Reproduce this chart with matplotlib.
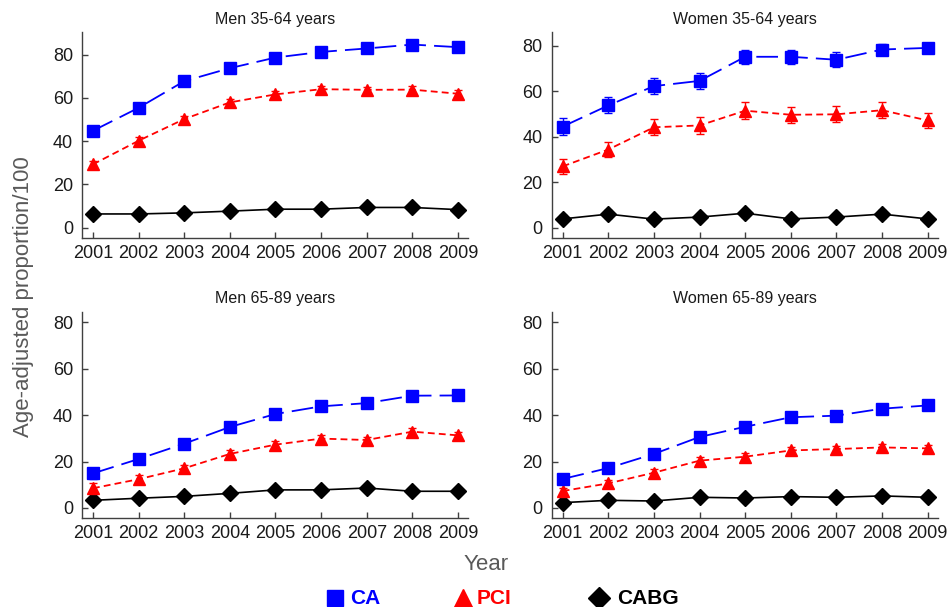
import matplotlib
matplotlib.use("Agg")
import matplotlib.pyplot as plt
from matplotlib.lines import Line2D
import numpy as np

plt.rcParams['font.family'] = ['Liberation Sans', 'DejaVu Sans']

years = [2001, 2002, 2003, 2004, 2005, 2006, 2007, 2008, 2009]
titles = ["Men 35-64 years", "Women 35-64 years", "Men 65-89 years", "Women 65-89 years"]

ca = [
    [44.8, 55.4, 67.7, 73.7, 78.6, 81.2, 82.8, 84.6, 83.4],
    [44.5, 53.8, 62.3, 64.6, 75.2, 75.2, 73.9, 78.4, 79.1],
    [14.9, 21.1, 27.7, 34.9, 40.5, 43.8, 45.2, 48.4, 48.5],
    [12.5, 17.2, 23.3, 30.6, 35.0, 39.1, 39.8, 42.8, 44.2],
]
ca_err = [
    [1.5, 1.5, 1.5, 1.5, 1.3, 1.2, 1.2, 1.1, 1.1],
    [3.7, 3.5, 3.4, 3.5, 3.1, 3.1, 3.2, 2.6, 2.3],
    [2.4, 1.8, 1.6, 1.6, 1.5, 1.5, 1.5, 1.4, 1.4],
    [1.6, 1.6, 1.5, 1.5, 1.5, 1.5, 1.4, 1.4, 1.4],
]
pci = [
    [29.3, 40.2, 50.2, 57.9, 61.6, 64.0, 63.7, 63.8, 61.9],
    [27.0, 34.4, 44.2, 45.0, 51.5, 49.7, 49.9, 51.7, 47.2],
    [8.5, 12.4, 17.1, 23.3, 27.3, 29.9, 29.3, 32.9, 31.3],
    [7.3, 10.6, 15.2, 20.4, 22.1, 24.8, 25.4, 26.1, 25.7],
]
pci_err = [
    [1.5, 1.5, 1.5, 1.5, 1.5, 1.5, 1.5, 1.5, 1.5],
    [3.3, 3.4, 3.6, 3.6, 3.7, 3.6, 3.6, 3.6, 3.4],
    [2.2, 2.0, 1.6, 1.6, 1.5, 1.5, 1.5, 1.4, 1.4],
    [1.4, 1.4, 1.4, 1.4, 1.4, 1.4, 1.4, 1.4, 1.4],
]
cabg = [
    [6.4, 6.4, 6.9, 7.7, 8.6, 8.6, 9.4, 9.4, 8.4],
    [3.9, 6.0, 3.8, 4.7, 6.4, 3.9, 4.7, 6.0, 3.9],
    [3.3, 4.2, 5.0, 6.3, 7.8, 7.8, 8.6, 7.2, 7.2],
    [2.3, 3.3, 3.0, 4.6, 4.3, 4.9, 4.6, 5.2, 4.6],
]
cabg_err = [
    [0.8, 0.8, 0.8, 0.8, 0.8, 0.8, 0.8, 0.8, 0.8],
    [1.5, 1.6, 1.4, 1.5, 1.6, 1.4, 1.5, 1.6, 1.4],
    [1.0, 1.0, 1.0, 1.0, 1.0, 1.0, 1.0, 1.0, 1.0],
    [0.8, 0.8, 0.8, 0.8, 0.8, 0.8, 0.8, 0.8, 0.8],
]
ylims = [(-4.7, 90.4), (-4.5, 86.1), (-4.45, 84.6), (-4.45, 84.6)]
yticks = [0, 20, 40, 60, 80]
legend_labels = ['CA', 'PCI', 'CABG']

W, H = 950, 607
fig = plt.figure(figsize=(W / 100, H / 100), dpi=100)

boxes = [
    (82, 32, 468, 238),
    (551.7, 32, 937.7, 238),
    (82, 311.7, 468, 518.3),
    (551.7, 311.7, 937.7, 518.3),
]

spine_col = '#404040'
blue = '#0000ff'
red = '#ff0000'

for i, (l, t, r, b) in enumerate(boxes):
    ax = fig.add_axes([l / W, 1 - b / H, (r - l) / W, (b - t) / H])
    ax.errorbar(years, cabg[i], yerr=cabg_err[i], color='black', ls='-', lw=1.2,
                marker='D', ms=8, capsize=3, elinewidth=1.0, zorder=3)
    ax.errorbar(years, pci[i], yerr=pci_err[i], color=red, ls=(0, (3.8, 2.3)), lw=1.3,
                marker='^', ms=8.5, capsize=3, elinewidth=1.0, zorder=4)
    ax.errorbar(years, ca[i], yerr=ca_err[i], color=blue, ls=(0, (12, 4.5)), lw=1.3,
                marker='s', ms=8, capsize=3, elinewidth=1.0, zorder=5)
    ax.set_xlim(2000.76, 2009.22)
    ax.set_ylim(*ylims[i])
    ax.set_xticks(years)
    ax.set_yticks(yticks)
    for s in ['top', 'right']:
        ax.spines[s].set_visible(False)
    for s in ['left', 'bottom']:
        ax.spines[s].set_color(spine_col)
        ax.spines[s].set_linewidth(1.0)
    ax.tick_params(axis='both', direction='in', length=4.5, width=1.0,
                   color=spine_col, labelsize=13, labelcolor='#1a1a1a')
    ax.tick_params(axis='y', pad=6.5)
    ax.tick_params(axis='x', pad=5)
    ax.set_title(titles[i], fontsize=11.5, pad=6, color='#1a1a1a')

fig.text(24 / W, 1 - 297 / H, 'Age-adjusted proportion/100', rotation=90,
         ha='center', va='center', fontsize=16, color='#595959')
fig.text(486 / W, 1 - 565 / H, 'Year', ha='center', va='center',
         fontsize=16, color='#595959')

# legend row
leg_y = 1 - 598 / H
leg_items = [
    ('s', 11, blue, 335, 350),
    ('^', 13, red, 463, 477),
    ('D', 11, 'black', 599, 617),
]
for (mk, ms, c, mx, tx), lab in zip(leg_items, legend_labels):
    fig.add_artist(Line2D([mx / W], [leg_y], ls='none', marker=mk, ms=ms, color=c,
                          transform=fig.transFigure))
    fig.text(tx / W, leg_y, lab, ha='left', va='center', fontsize=15,
             fontweight='bold', color=c)

fig.savefig('out.png', dpi=100)
